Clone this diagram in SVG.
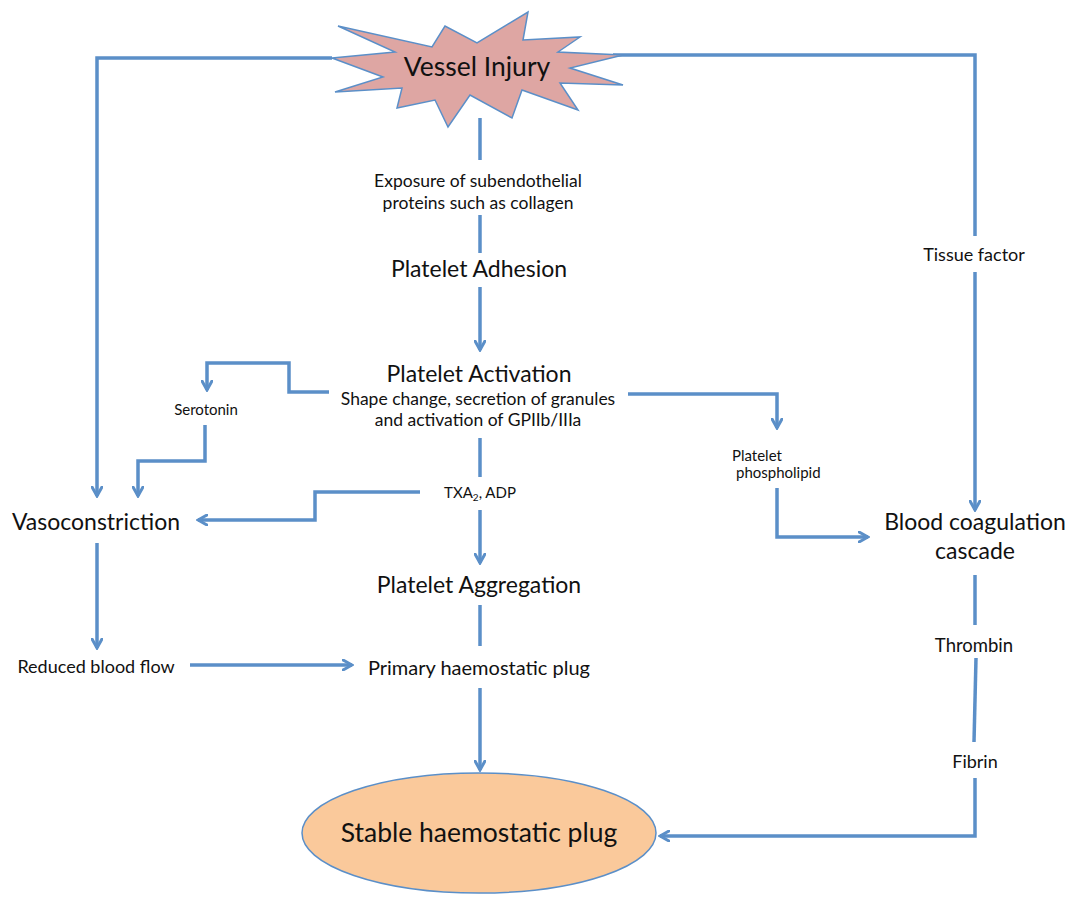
<svg xmlns="http://www.w3.org/2000/svg" width="1076" height="898" viewBox="0 0 1076 898">
<style>
text{font-family:Lato,"Open Sans","Liberation Sans",sans-serif;fill:#111}
.c{stroke:#5b8fc8;stroke-width:3.5;fill:none;stroke-linejoin:miter}
.a{marker-end:url(#ah)}
.big{font-size:23px}
.mid{font-size:17.5px}
.sm{font-size:15px}
</style>
<defs>
<marker id="ah" viewBox="0 0 12 12" refX="10" refY="6" markerWidth="12" markerHeight="12" markerUnits="userSpaceOnUse" orient="auto">
<path d="M1,1 L10,6 L1,11" fill="none" stroke="#5b8fc8" stroke-width="3" stroke-linecap="round"/>
</marker>
</defs>
<rect width="1076" height="898" fill="#fff"/>
<g id="connectors">
<path class="c a" d="M332,58 H97 V496"/>
<path class="c" d="M613,55 H975 V236"/>
<path class="c a" d="M975,272 V510"/>
<path class="c" d="M480,118 V160"/>
<path class="c" d="M480,215 V253"/>
<path class="c a" d="M480,287 V350"/>
<path class="c a" d="M329,392 H289 V363 H207 V390"/>
<path class="c a" d="M205,425 V461 H138 V496"/>
<path class="c a" d="M628,394 H777 V428"/>
<path class="c a" d="M777,488 V537 H868"/>
<path class="c" d="M480,438 V477"/>
<path class="c a" d="M420,492 H315 V520 H198"/>
<path class="c a" d="M480,510 V563"/>
<path class="c" d="M480,605 V646"/>
<path class="c a" d="M97,543 V648"/>
<path class="c a" d="M190,665 H352"/>
<path class="c a" d="M480,688 V770"/>
<path class="c" d="M975,575 V625"/>
<path class="c" d="M976,658 L974,742"/>
<path class="c a" d="M975,778 V836 H660"/>
</g>
<g id="vessel-injury">
<polygon points="338,26 432,47 445,26 477,43 528,12 523,40 580,37 558,52 623,55 570,68 623,85 560,83 578,110 522,90 512,118 470,95 448,127 435,100 397,108 402,88 335,92 383,77 332,58 395,52" fill="#dea6a3" stroke="#5b8fc8" stroke-width="1.5"/>
<text x="477" y="76" text-anchor="middle" style="font-size:26.5px">Vessel Injury</text>
</g>
<g id="exposure">
<text class="mid" x="478" y="187" text-anchor="middle">Exposure of subendothelial</text>
<text class="mid" x="478" y="209" text-anchor="middle">proteins such as collagen</text>
</g>
<g id="platelet-adhesion"><text class="big" x="479" y="277" text-anchor="middle">Platelet Adhesion</text></g>
<g id="platelet-activation">
<text class="big" x="479" y="382" text-anchor="middle">Platelet Activation</text>
<text class="mid" x="478" y="405" text-anchor="middle">Shape change, secretion of granules</text>
<text class="mid" x="478" y="426" text-anchor="middle">and activation of GPIIb/IIIa</text>
</g>
<g id="serotonin"><text class="sm" x="206" y="415" text-anchor="middle">Serotonin</text></g>
<g id="txa2"><text class="sm" x="480" y="498" text-anchor="middle">TXA<tspan font-size="10" dy="3">2</tspan><tspan dy="-3">, ADP</tspan></text></g>
<g id="platelet-phospholipid">
<text class="sm" x="732" y="461">Platelet</text>
<text class="sm" x="736" y="478">phospholipid</text>
</g>
<g id="vasoconstriction"><text class="big" x="96" y="530" text-anchor="middle">Vasoconstriction</text></g>
<g id="blood-coagulation">
<text class="big" x="975" y="530" text-anchor="middle">Blood coagulation</text>
<text class="big" x="975" y="559" text-anchor="middle">cascade</text>
</g>
<g id="tissue-factor"><text x="974" y="261" text-anchor="middle" style="font-size:18px">Tissue factor</text></g>
<g id="platelet-aggregation"><text class="big" x="479" y="593" text-anchor="middle">Platelet Aggregation</text></g>
<g id="reduced-blood-flow"><text x="96" y="673" text-anchor="middle" style="font-size:18px">Reduced blood flow</text></g>
<g id="primary-plug"><text x="479" y="675" text-anchor="middle" style="font-size:20px">Primary haemostatic plug</text></g>
<g id="thrombin"><text x="974" y="652" text-anchor="middle" style="font-size:18.5px">Thrombin</text></g>
<g id="fibrin"><text x="975" y="768" text-anchor="middle" style="font-size:18px">Fibrin</text></g>
<g id="stable-plug">
<ellipse cx="479" cy="833" rx="177" ry="60" fill="#fac99b" stroke="#5b8fc8" stroke-width="1.5"/>
<text x="479" y="842" text-anchor="middle" style="font-size:26.5px">Stable haemostatic plug</text>
</g>
</svg>
